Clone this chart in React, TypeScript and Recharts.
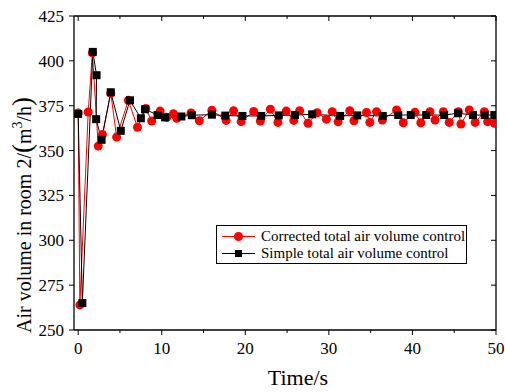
import { LineChart, Line, XAxis, YAxis, Legend } from 'recharts';

// Corrected total air volume control (red circles)
const correctedTime = [
  0, 0.2, 1.2, 1.7, 2.4, 2.9, 3.9, 4.6, 6.0, 7.1, 8.1, 8.8, 9.8, 10.6, 11.4, 11.8, 13.5, 14.5,
  16.0, 17.7, 18.6, 19.5, 21.0, 21.8, 23.0, 23.9, 24.9, 25.8, 26.5, 27.5, 28.6, 29.7, 30.4, 31.1,
  32.5, 33.0, 34.5, 34.9, 35.7, 36.4, 38.1, 38.9, 40.3, 41.0, 42.1, 42.7, 43.7, 44.4, 45.5, 45.8,
  46.8, 47.5, 48.6, 49.0, 49.8,
];
const correctedFlow = [
  371, 264, 371.5, 404.5, 352.5, 359, 382, 357.5, 378, 363, 373.5, 366.5, 372, 368.5, 370.5, 368, 371, 366.6,
  372.5, 366.8, 372.2, 366.1, 371.8, 366.5, 373, 365.7, 372, 366.8, 372.2, 365.2, 371.1, 367.5, 371.7, 366,
  372.2, 366.6, 371.2, 365.7, 371.7, 367, 372.6, 365.5, 371.3, 365.5, 371.7, 367, 371.7, 365.7, 371.7, 364.8,
  372.6, 365.7, 371.7, 366.1, 365.2,
];

// Simple total air volume control (black squares)
const simpleTime = [
  0, 0.5, 1.75, 2.2, 2.15, 2.8, 3.9, 5.1, 6.2, 7.5, 8.0, 9.5, 10.4, 12.35, 13.6, 16.0, 17.6,
  19.65, 21.9, 24.0, 25.95, 28.0, 31.35, 33.4, 36.45, 38.3, 39.8, 41.65, 43.8, 45.45, 47.25, 48.65, 49.8,
];
const simpleFlow = [
  370.4, 265, 405, 392, 367.5, 356, 382.5, 361, 378, 368, 373, 369.8, 368.5, 369, 369.7, 370, 369.5,
  369.3, 369.3, 369.6, 369.8, 370.2, 369.3, 369.6, 369.3, 369.8, 369.8, 369.8, 369.8, 370.8, 369.8, 369.8, 369.8,
];

const timeTicks = [0, 5, 10, 15, 20, 25, 30, 35, 40, 45, 50];
const flowTicks = [250, 262.5, 275, 287.5, 300, 312.5, 325, 337.5, 350, 362.5, 375, 387.5, 400, 412.5, 425];

const correctedData = correctedTime.map((t, i) => ({ t, v: correctedFlow[i] }));
const simpleData = simpleTime.map((t, i) => ({ t, v: simpleFlow[i] }));

const FONT = 'Liberation Serif, serif';
const RED = '#ff0000';
const serif = { fontFamily: FONT };

const BottomTick = ({ x, y, payload }: any) => {
  const major = payload.value % 10 === 0;
  return (
    <g>
      <line x1={x} x2={x} y1={y} y2={y + (major ? 5 : 3)} stroke="#000" strokeWidth={1} />
      {major && (
        <text x={x} y={y + 24} textAnchor="middle" fontFamily={FONT} style={serif} fontSize={17} fill="#000">
          {payload.value}
        </text>
      )}
    </g>
  );
};

const TopTick = ({ x, y, payload }: any) => {
  const major = payload.value % 10 === 0;
  return <line x1={x} x2={x} y1={y} y2={y + (major ? 5 : 3)} stroke="#000" strokeWidth={1} />;
};

const LeftTick = ({ x, y, payload }: any) => {
  const major = payload.value % 25 === 0;
  return (
    <g>
      <line x1={x - (major ? 5 : 3)} x2={x} y1={y} y2={y} stroke="#000" strokeWidth={1} />
      {major && (
        <text x={x - 10} y={y} dy="0.35em" textAnchor="end" fontFamily={FONT} style={serif} fontSize={17} fill="#000">
          {payload.value}
        </text>
      )}
    </g>
  );
};

const RightTick = ({ x, y, payload }: any) => {
  const major = payload.value % 25 === 0;
  return <line x1={x - (major ? 5 : 3)} x2={x} y1={y} y2={y} stroke="#000" strokeWidth={1} />;
};

const squareDot = (props: any) => {
  const { cx, cy, index } = props;
  return <rect key={`sq-${index}`} x={cx - 4} y={cy - 4} width={8} height={8} fill="#000" />;
};

const legendItems = [
  { label: 'Corrected total air volume control', color: RED, shape: 'circle' },
  { label: 'Simple total air volume control', color: '#000', shape: 'square' },
];

const renderLegend = () => (
  <div
    style={{
      border: '1px solid #000',
      background: '#fff',
      width: 251,
      height: 39,
      paddingTop: 2,
      boxSizing: 'border-box',
      fontFamily: FONT,
      fontSize: 15,
      color: '#000',
    }}
  >
    {legendItems.map((item) => (
      <div key={item.label} style={{ display: 'flex', alignItems: 'center', height: 17 }}>
        <svg width={44} height={17} style={{ flex: 'none' }}>
          <line x1={5} x2={38} y1={8.5} y2={8.5} stroke={item.color} strokeWidth={1} />
          {item.shape === 'circle' ? (
            <circle cx={21.5} cy={8.5} r={4.5} fill={item.color} />
          ) : (
            <rect x={18} y={5} width={7} height={7} fill={item.color} />
          )}
        </svg>
        <span style={{ whiteSpace: 'nowrap' }}>{item.label}</span>
      </div>
    ))}
  </div>
);

export default function App() {
  return (
    <div style={{ position: 'absolute', left: 0, top: 0, background: '#fff', fontFamily: FONT }}>
      <LineChart width={505} height={392} margin={{ top: 0, right: 0, bottom: 0, left: 0 }} style={serif}>
        <XAxis
          xAxisId="bottom"
          type="number"
          dataKey="t"
          domain={[-0.5, 50]}
          ticks={timeTicks}
          allowDataOverflow
          height={62}
          tickSize={0}
          tickMargin={0}
          tickLine={false}
          tick={<BottomTick />}
          axisLine={{ stroke: '#000', strokeWidth: 1.3 }}
          label={{
            content: ({ viewBox }: any) => (
              <text x={viewBox.x + viewBox.width / 2 + 13} y={385} textAnchor="middle" fontFamily={FONT} style={serif} fontSize={22} fill="#000">
                Time/s
              </text>
            ),
          }}
        />
        <XAxis
          xAxisId="top"
          orientation="top"
          type="number"
          dataKey="t"
          domain={[-0.5, 50]}
          ticks={timeTicks}
          allowDataOverflow
          height={16}
          tickSize={0}
          tickMargin={0}
          tickLine={false}
          tick={<TopTick />}
          axisLine={{ stroke: '#000', strokeWidth: 1.3 }}
        />
        <YAxis
          yAxisId="left"
          type="number"
          domain={[250, 425]}
          ticks={flowTicks}
          allowDataOverflow
          width={74}
          tickSize={0}
          tickMargin={0}
          tickLine={false}
          tick={<LeftTick />}
          axisLine={{ stroke: '#000', strokeWidth: 1.3 }}
          label={{
            content: () => (
              <text x={31} y={333} transform="rotate(-90 31 333)" fontFamily={FONT} style={serif} fontSize={20} fill="#000">
                <tspan>Air volume in room 2/</tspan>
                <tspan fontSize={27}>(</tspan>
                <tspan>m</tspan>
                <tspan fontSize={14} dy={-9}>3</tspan>
                <tspan dy={9}>/h</tspan>
                <tspan fontSize={27}>)</tspan>
              </text>
            ),
          }}
        />
        <YAxis
          yAxisId="right"
          orientation="right"
          type="number"
          domain={[250, 425]}
          ticks={flowTicks}
          allowDataOverflow
          width={9}
          tickSize={0}
          tickMargin={0}
          tickLine={false}
          tick={<RightTick />}
          axisLine={{ stroke: '#000', strokeWidth: 1.3 }}
        />
        <Legend
          layout="horizontal"
          verticalAlign="middle"
          align="center"
          content={renderLegend}
          wrapperStyle={{ left: 216, top: 225, width: 251, height: 39 }}
        />
        <Line
          xAxisId="bottom"
          yAxisId="left"
          data={correctedData}
          dataKey="v"
          name="Corrected total air volume control"
          type="linear"
          stroke={RED}
          strokeWidth={1}
          dot={{ r: 4.5, fill: RED, stroke: 'none' }}
          activeDot={false}
          isAnimationActive={false}
        />
        <Line
          xAxisId="bottom"
          yAxisId="left"
          data={simpleData}
          dataKey="v"
          name="Simple total air volume control"
          type="linear"
          stroke="#000"
          strokeWidth={1}
          dot={squareDot}
          activeDot={false}
          isAnimationActive={false}
        />
      </LineChart>
    </div>
  );
}
